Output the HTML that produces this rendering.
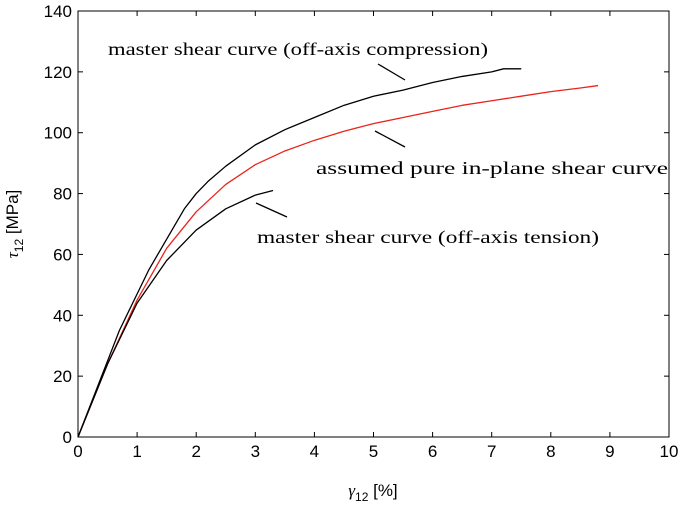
<!DOCTYPE html>
<html><head><meta charset="utf-8"><style>
body{margin:0;background:#fff}
svg text{font-family:"Liberation Sans",sans-serif;font-size:17px;fill:#000}
.ann{font-family:"Liberation Serif",serif;font-size:18px}
</style></head><body>
<svg width="685" height="506" viewBox="0 0 685 506">
<g id="axes"></g>
<g id="marks"></g>
<text class="ann" x="108" y="55" textLength="380" lengthAdjust="spacingAndGlyphs">master shear curve (off-axis compression)</text>
<line x1="378" y1="64" x2="405" y2="80" stroke="#000" stroke-width="1.3"/>
<text class="ann" x="316" y="174" textLength="352" lengthAdjust="spacingAndGlyphs">assumed pure in-plane shear curve</text>
<line x1="375" y1="131" x2="405" y2="147" stroke="#000" stroke-width="1.3"/>
<text class="ann" x="257" y="243" textLength="342" lengthAdjust="spacingAndGlyphs">master shear curve (off-axis tension)</text>
<line x1="256" y1="203" x2="287" y2="217" stroke="#000" stroke-width="1.3"/>
<text x="18" y="224" transform="rotate(-90 18 224)" text-anchor="middle"><tspan font-family="Liberation Serif" font-style="italic">τ</tspan><tspan font-size="12" dy="5">12</tspan><tspan dy="-5"> [MPa]</tspan></text>
<text x="373" y="496" text-anchor="middle"><tspan font-family="Liberation Serif" font-style="italic">γ</tspan><tspan font-size="12" dy="5">12</tspan><tspan dy="-5"> [%]</tspan></text>
</svg>
<script>
const xTicks=[0,1,2,3,4,5,6,7,8,9,10];
const yTicks=[0,20,40,60,80,100,120,140];
const compX=[0,0.1,0.3,0.5,0.7,1,1.2,1.5,1.8,2,2.2,2.5,3,3.5,4,4.5,5,5.5,6,6.5,7,7.2,7.5];
const compY=[0,5,15,25,35,47,55,65,75,80,84,89,96,101,105,109,112,114,116.5,118.5,120,121,121];
const pureX=[0,0.5,1,1.5,2,2.5,3,3.5,4,4.5,5,5.5,6,6.5,7,7.5,8,8.5,8.8];
const pureY=[0,24,45,62,74,83,89.5,94,97.5,100.5,103,105,107,109,110.5,112,113.5,114.7,115.5];
const tensX=[0,0.5,1,1.5,2,2.5,3,3.3];
const tensY=[0,24,44,58,68,75,79.5,81];
const L=78,R=669,T=11,B=437;
const sx=v=>L+(R-L)*v/10, sy=v=>B-(B-T)*v/140;
const NS="http://www.w3.org/2000/svg";
const ax=document.getElementById('axes'), mk=document.getElementById('marks');
function mkEl(t,a,p){const e=document.createElementNS(NS,t);for(const k in a)e.setAttribute(k,a[k]);p.appendChild(e);return e;}
const frame=mkEl('rect',{x:L,y:T,width:R-L,height:B-T,fill:'none',stroke:'#000','stroke-width':1},ax);


xTicks.forEach(v=>{const x=sx(v);
 mkEl('line',{x1:x,y1:B,x2:x,y2:B-5,stroke:'#000'},ax);mkEl('line',{x1:x,y1:T,x2:x,y2:T+5,stroke:'#000'},ax);
 const t=mkEl('text',{x:x,y:B+20,'text-anchor':'middle'},ax);t.textContent=v;
 
 });
yTicks.forEach(v=>{const y=sy(v);
 mkEl('line',{x1:L,y1:y,x2:L+5,y2:y,stroke:'#000'},ax);mkEl('line',{x1:R,y1:y,x2:R-5,y2:y,stroke:'#000'},ax);
 const t=mkEl('text',{x:L-6,y:y+6,'text-anchor':'end'},ax);t.textContent=v;
 
 });
function line(xs,ys,c,n){const p=mkEl('polyline',{points:xs.map((x,i)=>sx(x)+','+sy(ys[i])).join(' '),fill:'none',stroke:c,'stroke-width':1.3,'stroke-linejoin':'round'},mk);
 
 }
line(pureX,pureY,'#e8251c','pure-shear-curve');
line(tensX,tensY,'#000','tension-curve');
line(compX,compY,'#000','compression-curve');
</script>
</body></html>
